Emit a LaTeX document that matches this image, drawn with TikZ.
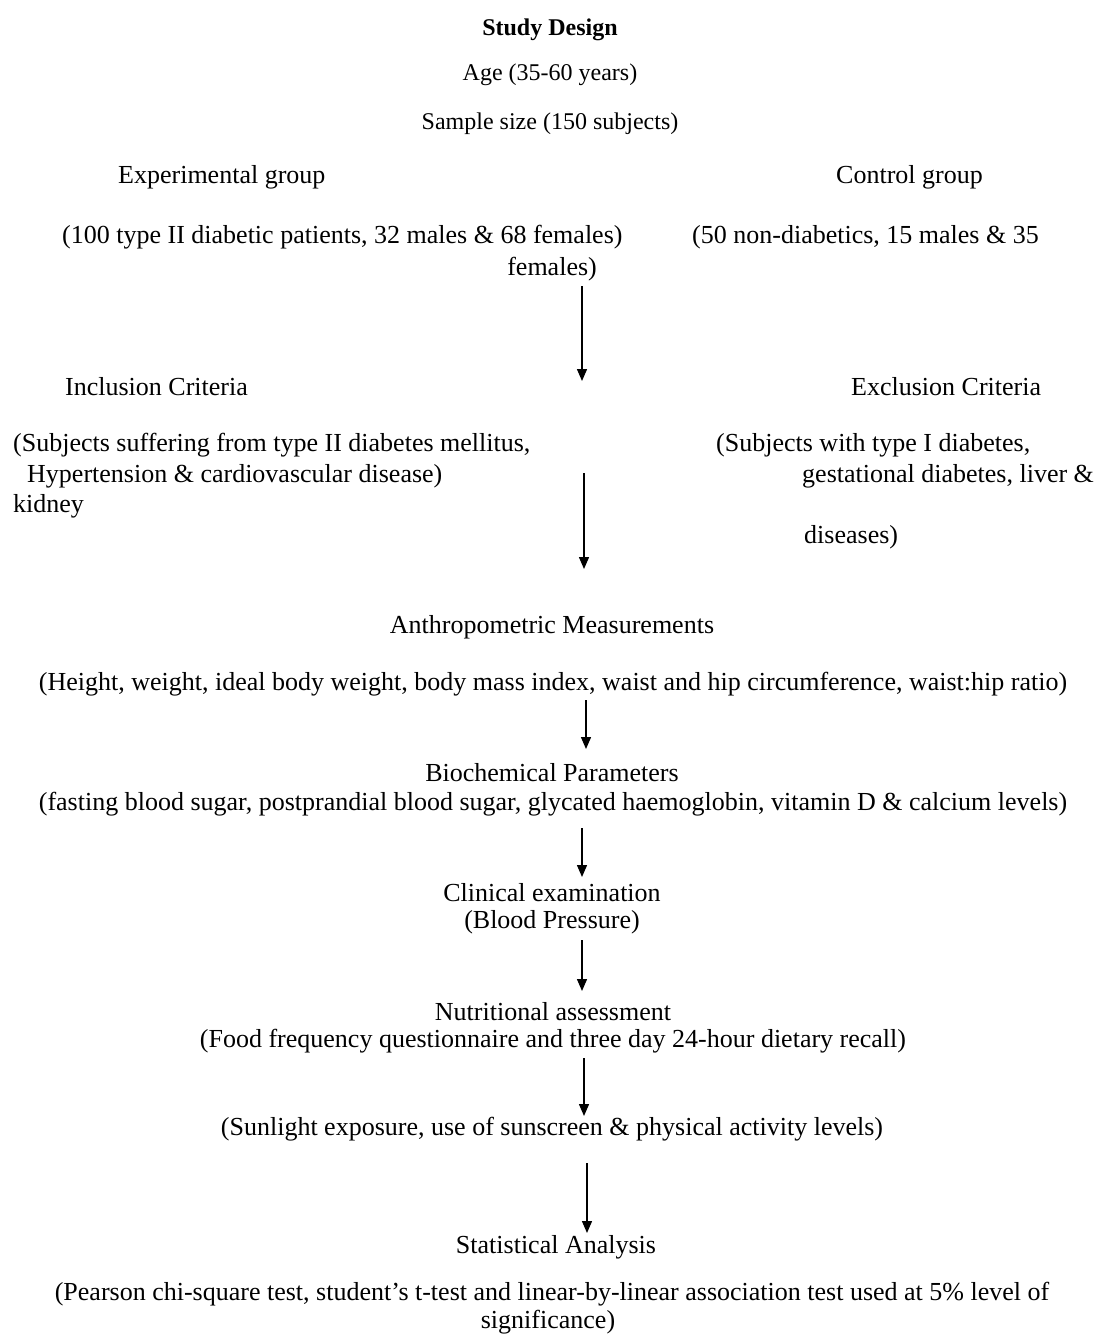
\documentclass[tikz,border=0pt]{standalone}
\usepackage{fontspec}
\setmainfont{Liberation Serif}
\usetikzlibrary{arrows.meta}

\begin{document}
\begin{tikzpicture}[x=1pt,y=-1pt]
   \useasboundingbox[fill=white] (0,0) rectangle (1094,1334);
   \begin{scope}[every node/.style={inner sep=0pt,yshift=-2pt,font=\fontsize{24}{28}\selectfont}]
    \node (title) at (550,28) {\bfseries Study Design};
    \node (age) at (550,73) {Age (35-60 years)};
    \node (size) at (550,122) {Sample size (150 subjects)};
   \end{scope}
   \begin{scope}[every node/.style={inner sep=0pt,yshift=-2pt,font=\fontsize{26}{30}\selectfont}]
    \node[anchor=west] (exp) at (118,175) {Experimental group};
    \node[anchor=west] (ctl) at (836,175) {Control group};
    \node[anchor=west] (expd) at (62,235) {(100 type II diabetic patients, 32 males \& 68 females)};
    \node[anchor=west] (ctld) at (692,235) {(50 non-diabetics, 15 males \& 35};
    \node[anchor=east] (ctld2) at (597,267) {females)};
    \node[anchor=west] (inc) at (65,385) {Inclusion Criteria};
    \node[anchor=west] (exc) at (851,385) {Exclusion Criteria};
    \node[anchor=west] (inc1) at (13,443) {(Subjects suffering from type II diabetes mellitus,};
    \node[anchor=west] (inc2) at (27,474) {Hypertension \& cardiovascular disease)};
    \node[anchor=west] (inc3) at (13,504) {kidney};
    \node[anchor=west] (exc1) at (716,443) {(Subjects with type I diabetes,};
    \node[anchor=west] (exc2) at (802,474) {gestational diabetes, liver \&};
    \node[anchor=west] (exc3) at (804,535) {diseases)};
    \node (anth) at (552,625) {Anthropometric Measurements};
    \node (anthd) at (553,682) {(Height, weight, ideal body weight, body mass index, waist and hip circumference, waist:hip ratio)};
    \node (bio) at (552,771) {Biochemical Parameters};
    \node (biod) at (553,802) {(fasting blood sugar, postprandial blood sugar, glycated haemoglobin, vitamin D \& calcium levels)};
    \node (clin) at (552,891) {Clinical examination};
    \node (clind) at (552,920) {(Blood Pressure)};
    \node (nutr) at (553,1010) {Nutritional assessment};
    \node (nutrd) at (553,1039) {(Food frequency questionnaire and three day 24-hour dietary recall)};
    \node (sun) at (552,1127) {(Sunlight exposure, use of sunscreen \& physical activity levels)};
    \node (stat) at (556,1245) {Statistical Analysis};
    \node (statd) at (552,1292) {(Pearson chi-square test, student's t-test and linear-by-linear association test used at 5\% level of};
    \node (statd2) at (548,1320) {significance)};
   \end{scope}
   % arrow ends
   \coordinate (a1) at (582,286);  \coordinate (b1) at (582,381);
   \coordinate (a2) at (584,473);  \coordinate (b2) at (584,569);
   \coordinate (a3) at (586,700);  \coordinate (b3) at (586,749);
   \coordinate (a4) at (582,828);  \coordinate (b4) at (582,877);
   \coordinate (a5) at (582,940);  \coordinate (b5) at (582,991);
   \coordinate (a6) at (584,1058); \coordinate (b6) at (584,1116);
   \coordinate (a7) at (587,1163); \coordinate (b7) at (587,1233);
   \begin{scope}[every edge/.style={draw=black,line width=1.4pt,-{Triangle[length=12pt,width=10pt]}}]
    \draw (a1) edge (b1);
    \draw (a2) edge (b2);
    \draw (a3) edge (b3);
    \draw (a4) edge (b4);
    \draw (a5) edge (b5);
    \draw (a6) edge (b6);
    \draw (a7) edge (b7);
   \end{scope}
\end{tikzpicture}
\end{document}
